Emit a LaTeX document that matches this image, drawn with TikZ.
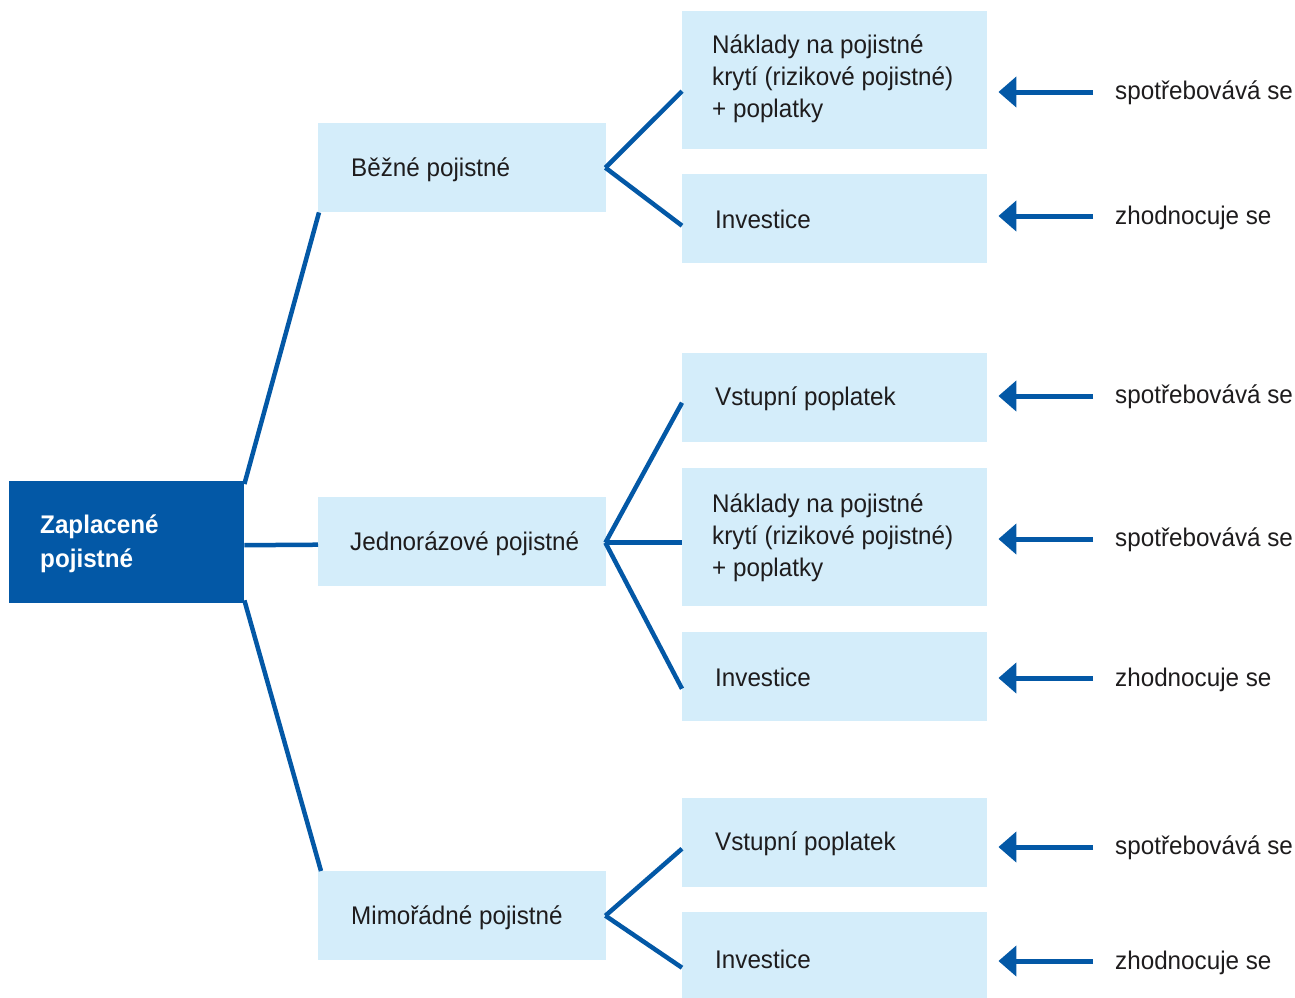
\documentclass[tikz,border=0pt]{standalone}
\usepackage{fontspec}
\setmainfont[FakeStretch=0.95]{Liberation Sans}
\usetikzlibrary{arrows.meta,calc}
\definecolor{dblue}{RGB}{3,88,166}
\definecolor{lblue}{RGB}{212,237,250}
\definecolor{txtc}{RGB}{30,28,29}
\tikzset{
  mainbox/.style={fill=dblue, draw=none, minimum width=235pt, minimum height=122pt, inner sep=0pt, anchor=north west},
  lvlone/.style={fill=lblue, draw=none, minimum width=288pt, minimum height=89pt, inner sep=0pt, anchor=north west},
  lvltwo/.style={fill=lblue, draw=none, minimum width=305pt, minimum height=89pt, inner sep=0pt, anchor=north west},
  boxtext/.style={text=txtc, inner sep=0pt, anchor=west, align=left, font=\fontsize{25.5}{32}\selectfont},
  maintext/.style={text=white, inner sep=0pt, anchor=west, align=left, font=\fontsize{25.5}{34}\selectfont\bfseries},
  sidetext/.style={text=txtc, inner sep=0pt, anchor=west, font=\fontsize{25.5}{32}\selectfont},
  conn/.style={dblue, line width=4.5pt},
  arr/.style={dblue, line width=5pt, -{Triangle[length=18pt,width=30pt]}}
}
\begin{document}
\begin{tikzpicture}[x=1pt,y=-1pt]
\useasboundingbox (0,0) rectangle (1295,997);
% main box
\node[mainbox] (m) at (9,481) {};
\node[maintext] (mt) at ([xshift=31pt,yshift=-2pt]m.west) {Zaplacené\\pojistné};
% level one
\node[lvlone] (b1) at (318,123) {};
\node[lvlone] (b2) at (318,497) {};
\node[lvlone] (b3) at (318,871) {};
\node[boxtext] (b1t) at ([xshift=33pt,yshift=-2pt]b1.west) {Běžné pojistné};
\node[boxtext] (b2t) at ([xshift=32pt,yshift=-2pt]b2.west) {Jednorázové pojistné};
\node[boxtext] (b3t) at ([xshift=33pt,yshift=-2pt]b3.west) {Mimořádné pojistné};
% level two
\node[lvltwo, minimum height=138pt] (n1) at (682,11) {};
\node[lvltwo] (n2) at (682,174) {};
\node[lvltwo] (n3) at (682,353) {};
\node[lvltwo, minimum height=138pt] (n4) at (682,468) {};
\node[lvltwo] (n5) at (682,632) {};
\node[lvltwo] (n6) at (682,798) {};
\node[lvltwo] (n7) at (682,912) {};
\node[boxtext] (n1t) at ([xshift=30pt,yshift=1pt]n1.west) {Náklady na pojistné\\krytí (rizikové pojistné)\\+ poplatky};
\node[boxtext] (n2t) at ([xshift=33pt,yshift=-1pt]n2.west) {Investice};
\node[boxtext] (n3t) at ([xshift=33pt,yshift=-1pt]n3.west) {Vstupní poplatek};
\node[boxtext] (n4t) at ([xshift=30pt,yshift=-1pt]n4.west) {Náklady na pojistné\\krytí (rizikové pojistné)\\+ poplatky};
\node[boxtext] (n5t) at ([xshift=33pt,yshift=-1pt]n5.west) {Investice};
\node[boxtext] (n6t) at ([xshift=33pt,yshift=-1pt]n6.west) {Vstupní poplatek};
\node[boxtext] (n7t) at ([xshift=33pt,yshift=-3pt]n7.west) {Investice};
% connectors main -> level one
\draw[conn] ([yshift=-3pt]m.north east) -- ([xshift=1pt]b1.south west);
\draw[conn] ([yshift=-3pt]m.east) -- ([yshift=-3pt]b2.west);
\draw[conn] ([yshift=3pt]m.south east) -- ([xshift=3pt]b3.north west);
% connectors level one -> level two
\draw[conn] ([xshift=-1pt]b1.east) -- ([yshift=-11pt]n1.west);
\draw[conn] ([xshift=-1pt]b1.east) -- ([yshift=-7pt]n2.west);
\draw[conn] ([xshift=-1pt,yshift=-1pt]b2.east) -- ([yshift=-5pt]n3.west);
\draw[conn] ([xshift=-1pt,yshift=-1pt]b2.east) -- ([yshift=-1pt]b2.east -| n4.west);
\draw[conn] ([xshift=-1pt,yshift=-1pt]b2.east) -- ([yshift=-12pt]n5.west);
\draw[conn] ([xshift=-1pt]b3.east) -- ([yshift=-6pt]n6.west);
\draw[conn] ([xshift=-1pt]b3.east) -- ([yshift=-11pt]n7.west);
% side labels
\node[sidetext] (l1) at (1115,93) {spotřebovává se};
\node[sidetext] (l2) at (1115,218) {zhodnocuje se};
\node[sidetext] (l3) at (1115,397) {spotřebovává se};
\node[sidetext] (l4) at (1115,540) {spotřebovává se};
\node[sidetext] (l5) at (1115,680) {zhodnocuje se};
\node[sidetext] (l6) at (1115,848) {spotřebovává se};
\node[sidetext] (l7) at (1115,963) {zhodnocuje se};
% arrows
\draw[arr] ([xshift=-22pt,yshift=1pt]l1.west) -- ($(n1.east |- l1.west)+(11,-1)$);
\draw[arr] ([xshift=-22pt,yshift=2pt]l2.west) -- ($(n2.east |- l2.west)+(11,-2)$);
\draw[arr] ([xshift=-22pt,yshift=1pt]l3.west) -- ($(n3.east |- l3.west)+(11,-1)$);
\draw[arr] ([xshift=-22pt,yshift=1pt]l4.west) -- ($(n4.east |- l4.west)+(11,-1)$);
\draw[arr] ([xshift=-22pt,yshift=2pt]l5.west) -- ($(n5.east |- l5.west)+(11,-2)$);
\draw[arr] ([xshift=-22pt,yshift=1pt]l6.west) -- ($(n6.east |- l6.west)+(11,-1)$);
\draw[arr] ([xshift=-22pt,yshift=2pt]l7.west) -- ($(n7.east |- l7.west)+(11,-2)$);
\end{tikzpicture}
\end{document}
